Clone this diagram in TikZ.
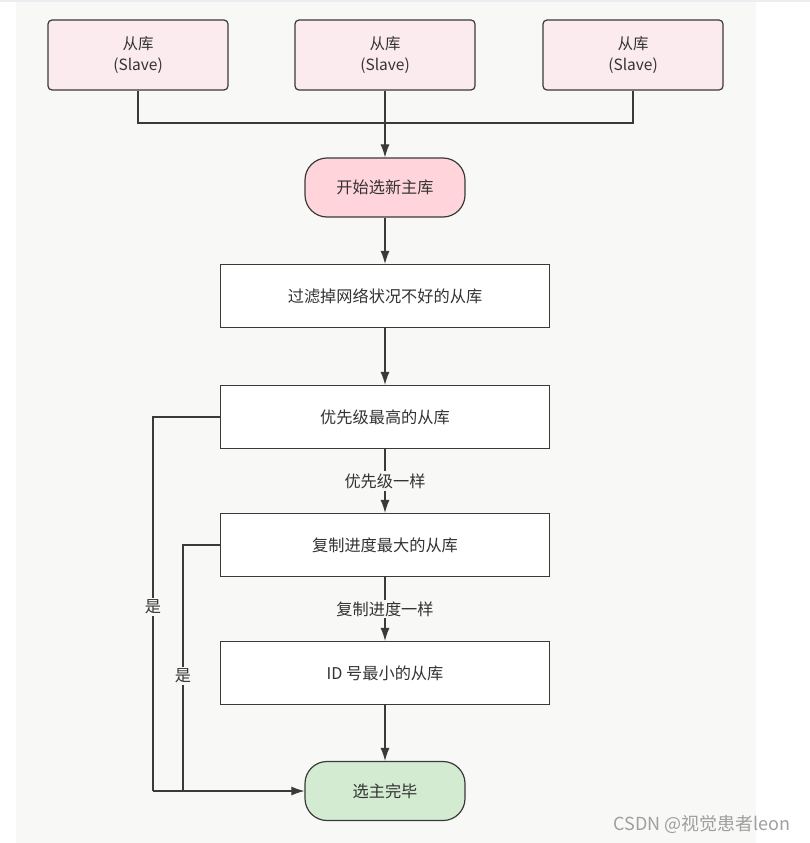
\documentclass[tikz,border=0pt]{standalone}
\usepackage{fontspec}
\setmainfont{Noto Sans CJK SC}
\usetikzlibrary{arrows.meta}

\definecolor{bgpaper}{HTML}{F8F8F6}
\definecolor{topband}{HTML}{EDEDF1}
\definecolor{slavefill}{HTML}{FBEBEE}
\definecolor{startfill}{HTML}{FFD5DB}
\definecolor{endfill}{HTML}{D3EBD1}
\definecolor{edgegray}{HTML}{3A3A3A}
\definecolor{inkgray}{HTML}{333333}

\tikzset{
  slavebox/.style={draw=edgegray, line width=1.2pt, fill=slavefill, rounded corners=4pt,
    minimum width=180pt, minimum height=70pt, inner sep=0pt, align=center,
    text=inkgray, font=\fontsize{15.5}{21}\selectfont},
  stepbox/.style={draw=edgegray, line width=1.2pt, fill=white,
    minimum width=329pt, minimum height=63pt, inner sep=0pt,
    text=inkgray, font=\fontsize{16.2}{18}\selectfont},
  termnode/.style={draw=edgegray, line width=1.2pt, rounded corners=22pt,
    minimum width=160pt, minimum height=59pt, inner sep=0pt,
    text=inkgray, font=\fontsize{16.2}{18}\selectfont},
  flow/.style={draw=edgegray, line width=1.1pt},
  flowarrow/.style={flow, -{Latex[length=13pt,width=9pt]}},
  lbl/.style={fill=bgpaper, inner sep=2pt, text=inkgray, font=\fontsize{16.2}{18}\selectfont}
}

\begin{document}
\begin{tikzpicture}[x=1pt, y=-1pt]
\useasboundingbox (0,0) rectangle (810,843);
\fill[white] (0,0) rectangle (810,843);
\fill[bgpaper] (16,0) rectangle (756,843);
\fill[topband] (0,0) rectangle (810,2);

% slaves
\node[slavebox] (s1) at (138,55) {从库\\(Slave)};
\node[slavebox] (s2) at (385,55) {从库\\(Slave)};
\node[slavebox] (s3) at (633,55) {从库\\(Slave)};

% main flow
\node[termnode, fill=startfill] (start) at (385,187.5) {开始选新主库};
\node[stepbox] (filter) at (385,296) {过滤掉网络状况不好的从库};
\node[stepbox] (prio) at (385,417) {优先级最高的从库};
\node[stepbox] (repl) at (385,545) {复制进度最大的从库};
\node[stepbox] (minid) at (385,673) {ID 号最小的从库};
\node[termnode, fill=endfill] (done) at (385,791) {选主完毕};

\coordinate (join) at (385,123);
\coordinate (loopa) at (153,791);
\coordinate (loopb) at (183,791);

\draw[flow] (s1.south) |- (join);
\draw[flow] (s3.south) |- (join);
\draw[flow] (s2.south) -- (join);
\draw[flowarrow] (join) -- (start.north);
\draw[flowarrow] (start) -- (filter);
\draw[flowarrow] (filter) -- (prio);
\draw[flowarrow] (prio) -- node[lbl, pos=0.5] {优先级一样} (repl);
\draw[flowarrow] (repl) -- node[lbl, pos=0.5] {复制进度一样} (minid);
\draw[flowarrow] (minid) -- (done);

% 是 branches
\draw[flow] (prio.west) -| node[lbl, pos=0.754] {是} (loopa);
\draw[flow] (repl.west) -| node[lbl, pos=0.766] {是} (loopb);
\draw[flowarrow] (loopa) -- (done.west);

\node[text=gray!75, font=\fontsize{18}{20}\selectfont] (mark) at (702,824) {CSDN @视觉患者leon};
\end{tikzpicture}
\end{document}
